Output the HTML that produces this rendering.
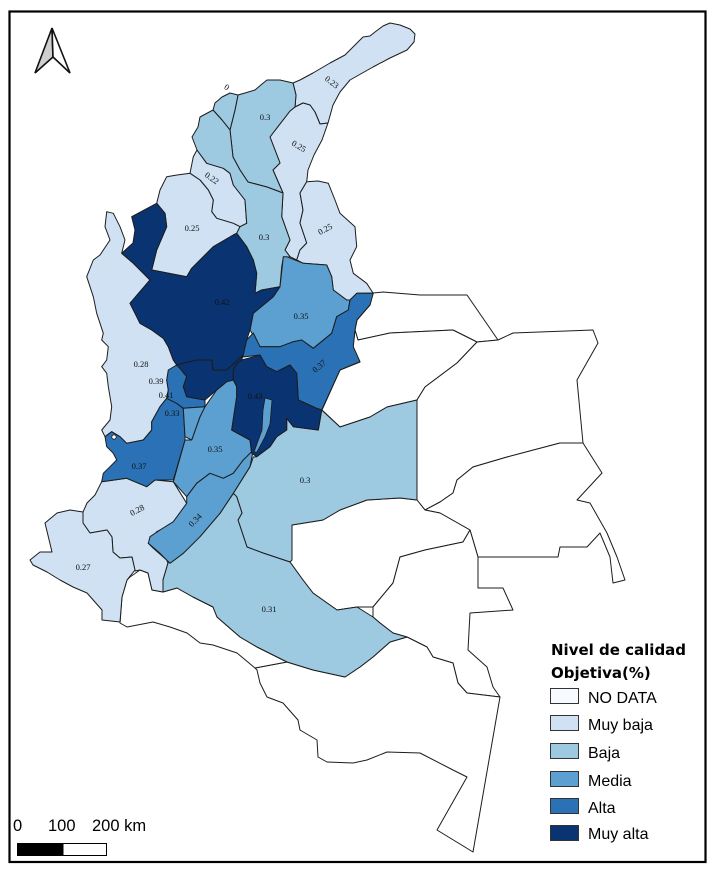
<!DOCTYPE html>
<html><head><meta charset="utf-8"><style>
html,body{margin:0;padding:0;background:#fff;}
svg{display:block;}
</style></head><body>
<svg width="718" height="878" viewBox="0 0 718 878" xmlns="http://www.w3.org/2000/svg">
<rect x="0" y="0" width="718" height="878" fill="#fff"/>
<rect x="9.5" y="11.5" width="696" height="850.5" fill="none" stroke="#000" stroke-width="2.2"/>

<!-- North arrow -->
<polygon points="52,28 35,73 53,57" fill="#cfcfcf" stroke="#111" stroke-width="1.6" stroke-linejoin="miter"/>
<polygon points="52,28 53,57 70,73" fill="#fff" stroke="#111" stroke-width="1.6" stroke-linejoin="miter"/>

<g stroke="#1c1c1c" stroke-width="1" stroke-linejoin="round">
<!-- NO DATA departments -->
<g fill="#fff">
<polygon points="373,293 383,292 420,295 467,295 498,340 477,342 453,330 390,333 358,340 355,330 357,320 363,313 370,305"/>
<polygon points="355,330 358,340 390,333 453,330 477,342 457,363 425,387 417,400 387,407 370,417 340,427 322,410 340,370 360,362 353,347"/>
<polygon points="417,400 425,387 457,363 477,342 498,340 513,333 593,330 598,343 577,380 583,443 560,443 507,457 473,467 457,480 453,493 440,502 425,510 417,500"/>
<polygon points="425,510 440,502 453,493 457,480 473,467 507,457 560,443 583,443 602,473 577,500 590,503 607,533 617,557 625,580 613,583 610,557 600,533 587,547 560,547 558,557 478,557 470,530 440,513"/>
<polygon points="292,525 323,520 340,510 367,500 400,498 417,500 425,510 440,513 470,530 463,542 425,550 400,557 393,583 373,607 357,607 337,610 313,593 303,580 290,562"/>
<polygon points="373,607 393,583 400,557 425,550 463,542 470,530 478,557 478,588 503,588 513,610 470,613 468,650 487,667 493,687 500,697 467,693 458,683 453,663 433,657 427,647 407,637 393,633 380,623 373,617"/>
<polygon points="255,668 287,662 313,670 345,677 360,667 373,657 390,642 407,637 427,647 433,657 453,663 458,683 467,693 500,697 473,852 437,830 467,777 453,770 420,753 387,752 367,760 353,763 327,762 318,757 317,740 300,730 298,720 283,703 267,697 260,683 257,670"/>
<polygon points="130,577 140,570 148,573 152,590 163,592 177,588 193,597 213,607 217,617 240,637 257,647 287,662 255,668 237,653 213,645 200,643 187,633 170,627 153,622 127,627 120,623 122,597 127,580"/>
</g>

<!-- Muy baja -->
<g fill="#cfe1f2">
<polygon points="293,83 300,80 313,73 330,63 345,55 355,45 363,37 370,36 375,32 383,26 390,23 400,25 410,29 415,34 414,42 407,50 390,58 373,67 350,80 340,92 333,105 328,123 320,124 315,112 310,105 303,103 295,107 296,95"/>
<polygon points="295,107 303,103 310,105 315,112 320,124 328,123 322,140 314,155 308,170 306.7,181.7 300,193 303,210 300,223 306.7,243 300,250 296.7,260 290,256.7 285,250 290,240 281.7,216.7 283,193 273,170 280,163 270,137 273,133 290,111"/>
<polygon points="306.7,181.7 318,181 328.3,183.3 335,200 340,213.3 355,226.7 356.7,246.7 350,260 353.3,273.3 366.7,283.3 373,293 356.7,293.3 350,300 346.7,300 333.3,290 331.7,276.7 326.7,265 303.3,263.3 296.7,260 300,250 306.7,243 300,223 303,210 300,193"/>
<polygon points="190,173.3 193.3,156.7 197,150 206.7,163.3 223.3,168.3 230,173.3 233.3,185 245,200 246.7,223.3 240,226.7 233.3,223.3 216.7,218.3 211.7,211.7 213.3,200 208.3,190 200,180"/>
<polygon points="166.7,176.7 177,175 190,173.3 200,180 208.3,190 213.3,200 211.7,211.7 216.7,218.3 233.3,223.3 240,226.7 236.7,233.3 233.3,235 213.3,246.7 191.7,268.3 186.7,276.7 151.7,270 156.7,250 166.7,226.7 165,213.3 156.7,203.3 160,190"/>
<polygon points="106.7,211.7 113.3,213.3 120,226.7 125,240 121.7,253.3 133.3,263.3 150,280 130,303.3 135,313.3 140,323.3 151.7,330 163.3,338.3 168.3,346.7 173.3,360 176.7,365 170,370 166.7,380 168.3,390 166.7,398.3 160,406.7 151.7,421.7 151.7,430 143.3,440 126.7,443.3 120,436.7 111.7,431.7 105,436.7 101.7,430 110,420 111.7,406.7 108.3,386.7 106.7,373.3 101.7,366.7 106.7,360 108.3,346.7 101.7,340 103.3,333.3 96.7,313.3 93.3,296.7 86.7,276.7 93.3,260 100,255 110,240 105,226.7"/>
<polygon points="101.7,481.7 126.7,478.3 146.7,486.7 155,480 173.3,481.7 186.7,503.3 176.7,521.7 156.7,531.7 148.3,543.3 153,548 166.7,560 168,563 163,580 163,592 152,590 148,573 140,570 135,571 132,557 120,558 113,552 112,537 107,530 90,533 83,523 83,512 87,503 95,495"/>
<polygon points="30,560 40,552 52,552 45,523 57,513 70,510 83,512 83,523 90,533 107,530 112,537 113,552 120,558 132,557 135,570 127,580 122,597 120,622 102,620 102,610 87,593 73,587 60,580 47,572 33,565"/>
</g>

<!-- Baja -->
<g fill="#9dc9e1">
<polygon points="238,95 245,93 255,90 262,84 267,80 280,80 293,83 296,95 295,107 290,111 273,133 270,137 280,163 273,170 283,193 267,187 248,182 240,170 233,157 230,130 235,110"/>
<polygon points="213,110 215,103 222,97 230,93 238,95 235,110 230,130 222,120"/>
<polygon points="213,110 222,120 230,130 233,157 240,170 248,182 267,187 283,193 281.7,216.7 290,240 285,250 290,256.7 283.3,258 281.7,266.7 280,286.7 261.7,290 255,293.3 256.7,273.3 253.3,260 246.7,246.7 236.7,233.3 240,226.7 246.7,223.3 245,200 233.3,185 230,173.3 223.3,168.3 206.7,163.3 197,150 192,137 198,127 200,117"/>
<polygon points="256.7,456.7 270,446.7 276.7,436.7 286.7,430 286.7,418.3 293.3,426.7 318.3,430 321.7,410 340,427 370,417 387,407 417,400 417,500 400,498 367,500 340,510 323,520 292,525 292,560 290,562 263,553 247,547 238,520 242,513 236.7,496.7 233.3,493.3 250,466.7 253.3,457"/>
<polygon points="168,563 183.3,553.3 200,536.7 220,513.3 233.3,493.3 236.7,496.7 242,513 238,520 247,547 263,553 290,562 303,580 313,593 337,610 357,607 373,617 380,623 393,633 407,637 390,642 373,657 360,667 345,677 313,670 287,662 257,647 240,637 217,617 213,607 193,597 177,588 163,592 163,580"/>
</g>

<!-- Media -->
<g fill="#5ba0d0">
<polygon points="283.3,256.7 286.7,256.7 303.3,263.3 326.7,265 331.7,276.7 333.3,290 346.7,300 350,300 348.3,310 336.7,316.7 331.7,333.3 313.3,348.3 301.7,340 293.3,341.7 280,346.7 260,346.7 250,330 253.3,313.3 273.3,296.7 280,286.7"/>
<polygon points="205,406.7 216.7,390 226.7,381.7 233.3,380 236.7,386.7 236.7,396.7 231.7,430 250,440 251.7,453.3 243.3,460 233.3,473.3 223.3,478.3 210,473.3 196.7,483.3 186.7,496.7 173.3,481.7 185,440 191.7,440 200,416.7"/>
<polygon points="186.7,496.7 196.7,483.3 210,473.3 223.3,478.3 233.3,473.3 243.3,460 253.3,450 250,466.7 233.3,493.3 220,513.3 200,536.7 183.3,553.3 170,563.3 160,553.3 148.3,543.3 150,536.7 160,530 173.3,521.7 186.7,503.3"/>
</g>

<!-- Alta -->
<g fill="#2a72b5">
<polygon points="241.7,350 246.7,340 253.3,333 260,346.7 280,346.7 293.3,341.7 301.7,340 313.3,348.3 331.7,333.3 336.7,316.7 348.3,310 350,300 356.7,293.3 373.3,293.3 370,305 363,313 357,320 355,330 353.3,346.7 360,361.7 340,370 321.7,410 316.7,408.3 298.3,400 296.7,373.3 290,365 276.7,371.7 266.7,366.7 260,355 243,357"/>
<polygon points="101.7,481.7 103.3,473.3 110,466.7 116.7,460 113.3,453.3 106.7,446.7 105,436.7 111.7,431.7 120,436.7 126.7,443.3 143.3,440 151.7,430 151.7,421.7 160,406.7 166.7,398.3 176.7,403.3 183.3,408.3 185,436.7 185,440 173.3,480 155,480 146.7,486.7 126.7,478.3"/>
<polygon points="166.7,380 168.3,370 176.7,365 180,368.3 186.7,376.7 183.3,386.7 186.7,396.7 205,400 205,406.7 183.3,408.3 176.7,403.3 166.7,398.3 168.3,390"/>
</g>

<!-- Muy alta -->
<g fill="#0a3471">
<polygon points="131.7,216.7 156.7,203.3 165,213.3 166.7,226.7 156.7,250 151.7,270 186.7,276.7 191.7,268.3 213.3,246.7 233.3,235 236.7,233.3 246.7,246.7 253.3,260 256.7,273.3 255,293.3 261.7,290 280,286.7 273.3,296.7 253.3,313.3 250,330 246.7,340 243.3,355 226.7,370 213.3,370 211.7,360 196.7,360 176.7,365 173.3,360 168.3,346.7 163.3,338.3 151.7,330 140,323.3 135,313.3 130,303.3 150,280 133.3,263.3 121.7,253.3 133,243 135,230"/>
<polygon points="176.7,365 196.7,360 211.7,360 213,370 226.7,370 243.3,355 241.7,360 236.7,363.3 233.3,370 233.3,380 226.7,381.7 216.7,390 205,400 186.7,396.7 183.3,386.7 186.7,376.7 180,368.3"/>
<polygon points="233.3,370 236.7,363.3 241.7,360 260,355 266.7,366.7 276.7,371.7 290,365 296.7,373.3 298.3,400 316.7,408.3 321.7,410 318.3,430 293.3,426.7 286.7,418.3 286.7,430 276.7,436.7 270,446.7 256.7,456.7 251.7,453.3 250,440 231.7,430 236.7,396.7 236.7,386.7 233.3,380"/>
</g>

<!-- small pieces -->
<polygon points="183.3,408.3 205,406.7 200,416.7 191.7,440 185,436.7" fill="#5ba0d0"/>
<polygon points="265,398 272,400 270,424 265,437 257,452 254,452 262,430 263,410" fill="#5ba0d0" stroke-width="0.8"/>
</g>
<circle cx="114" cy="437" r="2.2" fill="#fff" stroke="#1c1c1c" stroke-width="0.8"/>

<!-- value labels -->
<g font-family="Liberation Serif, DejaVu Serif, serif" font-size="8.5" fill="#111" text-anchor="middle">
<text x="332" y="85" transform="rotate(38 332 82)">0.23</text>
<text x="227" y="90" transform="rotate(35 227 87)">0</text>
<text x="265" y="120">0.3</text>
<text x="299" y="149" transform="rotate(30 299 146)">0.25</text>
<text x="212" y="181" transform="rotate(35 212 178)">0.22</text>
<text x="192" y="231">0.25</text>
<text x="264" y="240">0.3</text>
<text x="325" y="232" transform="rotate(-28 325 229)">0.25</text>
<text x="222" y="305">0.42</text>
<text x="301" y="319">0.35</text>
<text x="141" y="367">0.28</text>
<text x="156" y="384">0.39</text>
<text x="166" y="398">0.41</text>
<text x="172" y="416">0.33</text>
<text x="255" y="399">0.43</text>
<text x="319" y="369" transform="rotate(-40 319 366)">0.37</text>
<text x="215" y="452">0.35</text>
<text x="139" y="469">0.37</text>
<text x="305" y="483">0.3</text>
<text x="137" y="513" transform="rotate(-28 137 510)">0.28</text>
<text x="195" y="523" transform="rotate(-45 195 520)">0.34</text>
<text x="83" y="570">0.27</text>
<text x="269" y="612">0.31</text>
</g>

<!-- Legend -->
<g font-family="DejaVu Sans, Liberation Sans, sans-serif" fill="#000">
<text x="551" y="655" font-size="15" font-weight="bold">Nivel de calidad</text>
<text x="551" y="678" font-size="15" font-weight="bold">Objetiva(%)</text>
</g>
<g stroke="#333" stroke-width="1">
<rect x="550.5" y="688.5" width="28" height="15" fill="#f7fbff"/>
<rect x="550.5" y="715.5" width="28" height="15" fill="#cfe1f2"/>
<rect x="550.5" y="743.5" width="28" height="15" fill="#9dc9e1"/>
<rect x="550.5" y="771.5" width="28" height="15" fill="#5ba0d0"/>
<rect x="550.5" y="798.5" width="28" height="15" fill="#2a72b5"/>
<rect x="550.5" y="825.5" width="28" height="15" fill="#0a3471"/>
</g>
<g font-family="Liberation Sans, DejaVu Sans, sans-serif" font-size="16" fill="#000">
<text x="588" y="703">NO DATA</text>
<text x="588" y="730">Muy baja</text>
<text x="588" y="758">Baja</text>
<text x="588" y="786">Media</text>
<text x="588" y="813">Alta</text>
<text x="588" y="839">Muy alta</text>
</g>

<!-- Scale bar -->
<g font-family="Liberation Sans, DejaVu Sans, sans-serif" font-size="16.5" fill="#000">
<text x="13" y="831">0</text>
<text x="48" y="831">100</text>
<text x="92" y="831">200 km</text>
</g>
<rect x="17.5" y="843.5" width="89" height="12" fill="#fff" stroke="#000" stroke-width="1"/>
<rect x="17.5" y="843.5" width="46" height="12" fill="#000"/>
</svg>
</body></html>
